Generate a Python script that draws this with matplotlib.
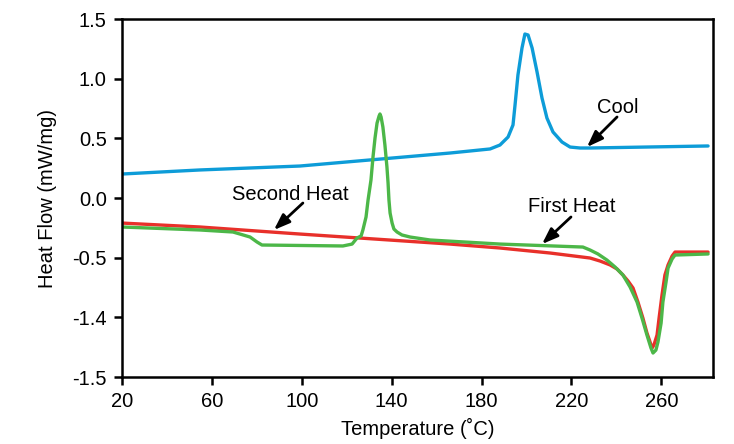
import matplotlib
matplotlib.use("Agg")
import matplotlib.pyplot as plt

plt.rcParams['font.family'] = ['Liberation Sans', 'DejaVu Sans']

# DSC traces: temperature (C) and heat flow (mW/mg)
cool_t = [20.0, 54.7, 99.2, 166.0, 174.9, 183.8, 188.2, 191.8, 194.0, 194.9, 196.2, 198.0,
          199.3, 200.7, 202.5, 204.7, 206.9, 209.1, 211.8, 215.8, 219.4, 223.8, 228.3, 280.8]
cool_hf = [0.201, 0.235, 0.268, 0.377, 0.394, 0.411, 0.444, 0.511, 0.612, 0.779, 1.031, 1.257,
           1.374, 1.366, 1.257, 1.056, 0.838, 0.670, 0.553, 0.469, 0.427, 0.419, 0.419, 0.436]

first_t = [20.0, 54.7, 99.2, 166.0, 188.2, 210.5, 228.3, 232.7, 237.2, 240.3, 242.9, 245.2,
           247.4, 249.6, 251.8, 253.6, 255.9, 256.7, 258.1, 259.0, 260.3, 261.6, 263.0, 264.8,
           266.1, 280.8]
first_hf = [-0.210, -0.243, -0.302, -0.386, -0.419, -0.461, -0.503, -0.528, -0.561, -0.595, -0.645, -0.696,
            -0.754, -0.872, -1.006, -1.131, -1.257, -1.232, -1.148, -1.006, -0.813, -0.645, -0.561, -0.486,
            -0.453, -0.453]

second_t = [20.0, 54.7, 69.4, 72.5, 77.0, 80.1, 82.3, 118.3, 122.4, 124.6, 126.4, 127.2, 128.6,
            129.5, 130.8, 131.7, 132.6, 133.5, 134.4, 134.8, 135.3, 136.1, 137.0, 137.9, 138.4,
            138.8, 139.3, 140.2, 141.0, 142.4, 144.6, 148.2, 157.1, 188.2, 225.1, 228.3, 231.8,
            235.8, 239.4, 242.9, 246.1, 249.2, 251.4, 253.6, 255.4, 256.3, 257.6, 258.5, 259.9,
            260.7, 262.1, 263.0, 264.8, 266.1, 280.8]
second_hf = [-0.243, -0.268, -0.285, -0.302, -0.327, -0.369, -0.394, -0.402, -0.386, -0.335, -0.318, -0.268, -0.159,
             -0.017, 0.151, 0.344, 0.503, 0.628, 0.687, 0.704, 0.679, 0.595, 0.444, 0.260, 0.126,
             -0.017, -0.126, -0.210, -0.260, -0.285, -0.310, -0.327, -0.352, -0.386, -0.411, -0.436, -0.469,
             -0.520, -0.578, -0.645, -0.746, -0.872, -1.006, -1.148, -1.257, -1.299, -1.274, -1.207, -1.048,
             -0.872, -0.704, -0.587, -0.511, -0.478, -0.469]

x_ticks = [20, 60, 100, 140, 180, 220, 260]
y_ticks = [1.5, 1.0, 0.5, 0.0, -0.5, -1.0, -1.5]
y_tick_labels = ['1.5', '1.0', '0.5', '0.0', '-0.5', '-1.4', '-1.5']

# curve labels: text position, arrow tail, arrow tip
labels = ['Cool', 'First Heat', 'Second Heat']
label_xy = [(240.7, 0.76), (220.3, -0.07), (94.8, 0.03)]
arrow_tail = [(240.3, 0.679), (219.8, -0.159), (100.5, -0.042)]
arrow_tip = [(226.9, 0.427), (206.9, -0.386), (87.6, -0.268)]

fig = plt.figure(figsize=(7.34, 4.44), dpi=100)
ax = fig.add_axes([0.1662, 0.1509, 0.8052, 0.8063])

line_kw = dict(lw=2.4, solid_joinstyle='round', solid_capstyle='round')
ax.plot(cool_t, cool_hf, color='#0d9cd8', **line_kw)
ax.plot(first_t, first_hf, color='#e8302a', **line_kw)
ax.plot(second_t, second_hf, color='#4cb748', **line_kw)

ax.set_xlim(20, 283)
ax.set_ylim(-1.5, 1.5)
ax.set_xticks(x_ticks)
ax.set_xticklabels([str(t) for t in x_ticks])
ax.set_yticks(y_ticks)
ax.set_yticklabels(y_tick_labels)

for s in ax.spines.values():
    s.set_linewidth(1.8)
ax.tick_params(direction='out', length=6, width=1.8, labelsize=14.5)
ax.tick_params(axis='y', pad=5)
ax.tick_params(axis='x', pad=5)

ax.set_xlabel('Temperature (˚C)', fontsize=14.5, labelpad=5)
ax.set_ylabel('Heat Flow (mW/mg)', fontsize=14.5, labelpad=11)

arrow = dict(arrowstyle='-|>,head_length=0.6,head_width=0.22', color='black', lw=2.0,
             mutation_scale=16, shrinkA=0, shrinkB=0)
for text, pos, tail, tip in zip(labels, label_xy, arrow_tail, arrow_tip):
    ax.text(pos[0], pos[1], text, fontsize=14.5, ha='center', va='center')
    ax.annotate('', xy=tip, xytext=tail, arrowprops=arrow)

fig.savefig('out.png', dpi=100)
